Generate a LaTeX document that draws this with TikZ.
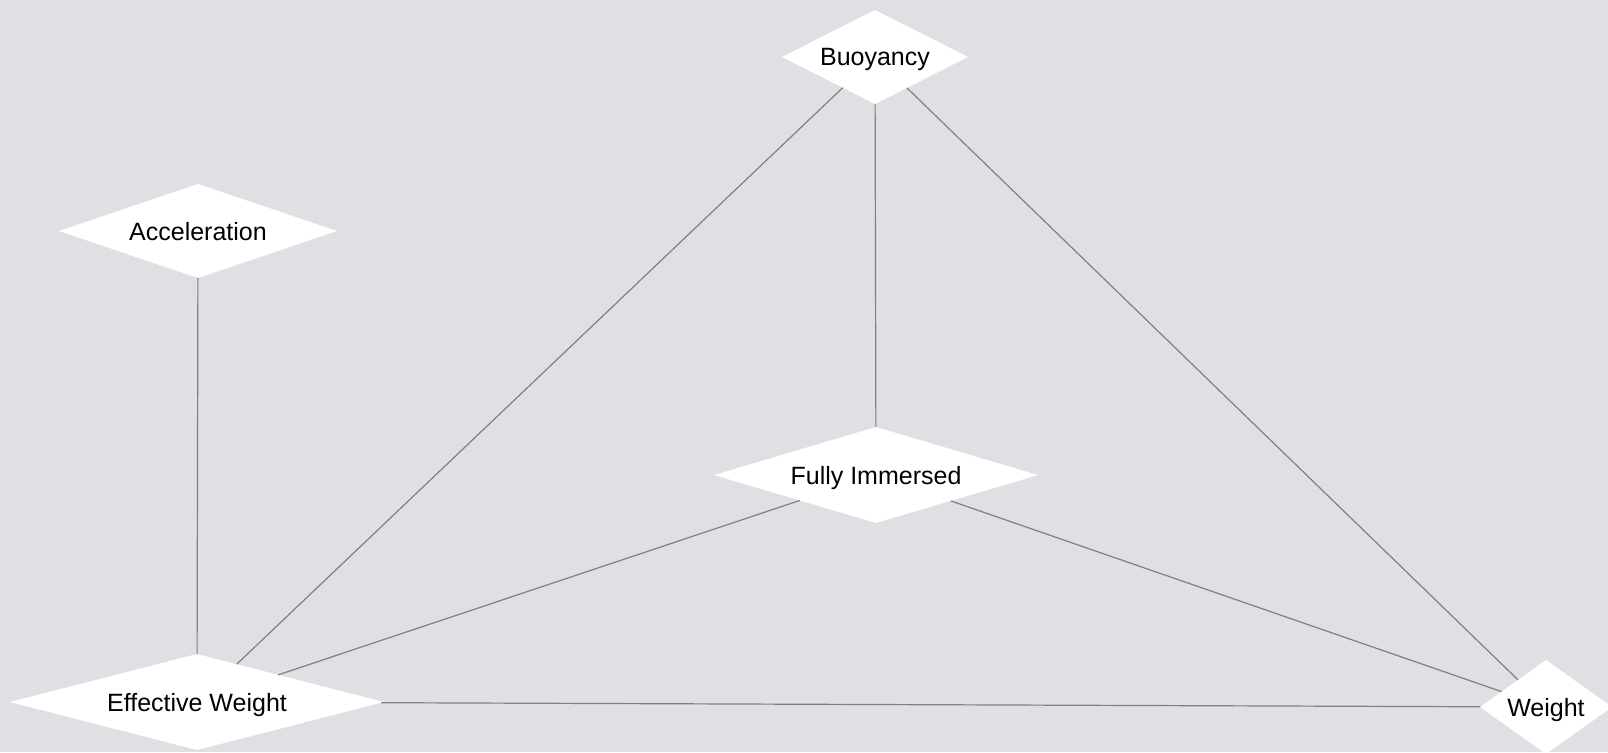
\documentclass[tikz,border=0pt]{standalone}
\usepackage{fontspec}
\setmainfont{Liberation Sans}
\usetikzlibrary{shapes.geometric}
\definecolor{canvas}{RGB}{224,224,228}
\definecolor{linkgray}{RGB}{128,128,128}
\tikzset{
  concept/.style={diamond, fill=white, draw=none, inner sep=0pt, outer sep=0pt,
    font=\fontsize{25}{28}\selectfont, text height=18pt, text depth=0pt},
  link/.style={draw=linkgray, line width=1.2pt},
}
\begin{document}
\begin{tikzpicture}[x=1pt, y=-1pt]
  \fill[canvas] (0,0) rectangle (1608,752);
  \useasboundingbox (0,0) rectangle (1608,752);

  \node[concept, aspect=1.98, minimum width=186, minimum height=94] (buoy) at (875,57) {Buoyancy};
  \node[concept, aspect=2.96, minimum width=278, minimum height=94] (accel) at (198,231) {Acceleration};
  \node[concept, aspect=3.375, minimum width=324, minimum height=96] (immersed) at (876,475) {Fully Immersed};
  \node[concept, aspect=3.9, minimum width=374, minimum height=96] (effw) at (197,702) {Effective Weight};
  \node[concept, aspect=1.4, minimum width=132, minimum height=94] (weight) at (1546,707) {Weight};

  \draw[link] (accel) -- (effw);
  \draw[link] (buoy) -- (effw);
  \draw[link] (buoy) -- (immersed);
  \draw[link] (buoy) -- (weight);
  \draw[link] (immersed) -- (effw);
  \draw[link] (immersed) -- (weight);
  \draw[link] (effw) -- (weight);
\end{tikzpicture}
\end{document}
